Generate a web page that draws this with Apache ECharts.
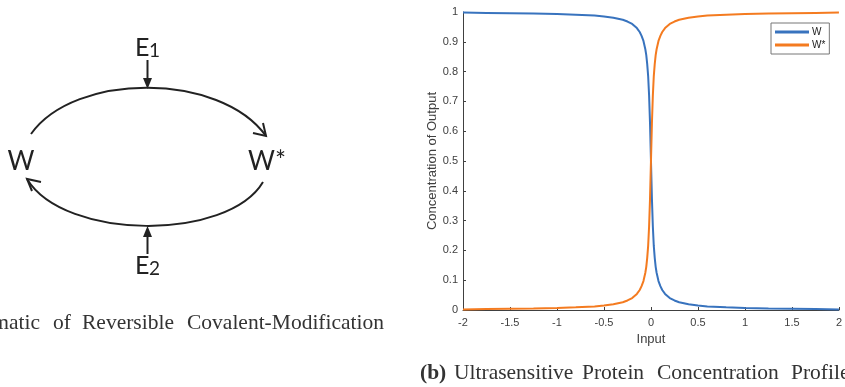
<!DOCTYPE html>
<html>
<head>
<meta charset="utf-8">
<script src="https://cdn.jsdelivr.net/npm/echarts@6/dist/echarts.min.js"></script>
<style>
  html, body { margin: 0; padding: 0; background: #ffffff; }
  #chart { width: 845px; height: 387px; }
</style>
</head>
<body>
<div id="chart"></div>
<script>
// Input level (x) at which the steady-state concentrations are sampled
const inputX = [-2, -1.75, -1.5, -1.25, -1, -0.8, -0.6, -0.5, -0.4, -0.3, -0.25, -0.2, -0.15, -0.12, -0.1,
  -0.08, -0.06, -0.05, -0.04, -0.03, -0.02, -0.01, 0, 0.01, 0.02, 0.03, 0.04, 0.05, 0.06, 0.08,
  0.1, 0.12, 0.15, 0.2, 0.25, 0.3, 0.4, 0.5, 0.6, 0.8, 1, 1.25, 1.5, 1.75, 2];

// Unmodified protein W
const wLevel = [0.998, 0.997, 0.996, 0.995, 0.993, 0.991, 0.988, 0.985, 0.981, 0.974, 0.968, 0.960, 0.946, 0.933, 0.920,
  0.903, 0.875, 0.855, 0.825, 0.785, 0.720, 0.625, 0.500, 0.375, 0.280, 0.215, 0.175, 0.145, 0.125, 0.097,
  0.080, 0.067, 0.054, 0.040, 0.032, 0.026, 0.019, 0.015, 0.012, 0.009, 0.007, 0.005, 0.004, 0.003, 0.002];

// Modified protein W*
const wStarLevel = [0.002, 0.003, 0.004, 0.005, 0.007, 0.009, 0.012, 0.015, 0.019, 0.026, 0.032, 0.040, 0.054, 0.067, 0.080,
  0.097, 0.125, 0.145, 0.175, 0.215, 0.280, 0.375, 0.500, 0.625, 0.720, 0.785, 0.825, 0.855, 0.875, 0.903,
  0.920, 0.933, 0.946, 0.960, 0.968, 0.974, 0.981, 0.985, 0.988, 0.991, 0.993, 0.995, 0.996, 0.997, 0.998];

const seriesNames = ['W', 'W*'];
const xRange = { min: -2, max: 2, step: 0.5 };
const yRange = { min: 0, max: 1, step: 0.1 };

const axisInk = '#404040';
const tickFont = '"Liberation Sans", Arial, sans-serif';
const diagramFont = 'Lato, "Open Sans", sans-serif';
const captionFont = '"Liberation Serif", serif';
const ink = '#222222';

const chart = echarts.init(document.getElementById('chart'), null, { renderer: 'canvas' });

// caption words, laid out with justified spacing
function word(text, x, y, align, bold) {
  return {
    type: 'text', x: x, y: y,
    style: {
      text: text, fill: '#333', align: align, verticalAlign: 'middle',
      font: (bold ? 'bold ' : '') + '21.5px ' + captionFont
    }
  };
}

// Schematic of the covalent-modification cycle
const schematic = [
  { type: 'text', x: 21, y: 162, style: { text: 'W', font: '26px ' + diagramFont, fill: ink, align: 'center', verticalAlign: 'middle' } },
  { type: 'text', x: 248, y: 162, style: { text: 'W*', font: '26px ' + diagramFont, fill: ink, align: 'left', verticalAlign: 'middle' } },
  { type: 'text', x: 135, y: 48, style: { text: 'E', font: '25px ' + diagramFont, fill: ink, align: 'left', verticalAlign: 'middle' } },
  { type: 'text', x: 149, y: 51, style: { text: '1', font: '19px ' + diagramFont, fill: ink, align: 'left', verticalAlign: 'middle' } },
  { type: 'text', x: 135, y: 266, style: { text: 'E', font: '25px ' + diagramFont, fill: ink, align: 'left', verticalAlign: 'middle' } },
  { type: 'text', x: 149, y: 269, style: { text: '2', font: '19px ' + diagramFont, fill: ink, align: 'left', verticalAlign: 'middle' } },
  // upper arc W -> W*
  { type: 'bezierCurve', shape: { x1: 31, y1: 134, cpx1: 75, cpy1: 72, cpx2: 220, cpy2: 72, x2: 266, y2: 136 }, style: { stroke: ink, lineWidth: 2, fill: null } },
  { type: 'polyline', shape: { points: [[253, 133], [266, 136], [263, 123]] }, style: { stroke: ink, lineWidth: 2, fill: null } },
  // lower arc W* -> W
  { type: 'bezierCurve', shape: { x1: 263, y1: 182, cpx1: 228, cpy1: 241, cpx2: 65, cpy2: 241, x2: 27, y2: 179 }, style: { stroke: ink, lineWidth: 2, fill: null } },
  { type: 'polyline', shape: { points: [[41, 182], [27, 179], [32, 191]] }, style: { stroke: ink, lineWidth: 2, fill: null } },
  // enzyme inputs
  { type: 'line', shape: { x1: 147.5, y1: 60, x2: 147.5, y2: 80 }, style: { stroke: ink, lineWidth: 2 } },
  { type: 'polygon', shape: { points: [[143, 78], [152, 78], [147.5, 89]] }, style: { fill: ink } },
  { type: 'line', shape: { x1: 147.5, y1: 254, x2: 147.5, y2: 235 }, style: { stroke: ink, lineWidth: 2 } },
  { type: 'polygon', shape: { points: [[143, 237], [152, 237], [147.5, 226]] }, style: { fill: ink } },
  // caption (a)
  word('(a)  Schematic', 40, 323, 'right'),
  word('of', 53, 323, 'left'),
  word('Reversible', 82, 323, 'left'),
  word('Covalent-Modification', 187, 323, 'left'),
  // caption (b)
  word('(b)', 420, 373, 'left', true),
  word('Ultrasensitive', 454, 373, 'left'),
  word('Protein', 582, 373, 'left'),
  word('Concentration', 657, 373, 'left'),
  word('Profile', 791, 373, 'left')
];

chart.setOption({
  animation: false,
  backgroundColor: '#ffffff',
  color: ['#3873BE', '#F47B20'],
  grid: { left: 463, top: 12, right: 4, bottom: 77, containLabel: false },
  legend: {
    data: seriesNames,
    orient: 'vertical',
    left: 771, top: 23,
    padding: [4, 4, 4, 4],
    itemGap: 3,
    itemWidth: 34, itemHeight: 3,
    icon: 'rect',
    borderColor: '#777', borderWidth: 1, borderRadius: 0,
    backgroundColor: '#fff',
    textStyle: { fontSize: 10, fontFamily: tickFont, color: '#222', padding: [0, 0, 0, -2] }
  },
  xAxis: {
    type: 'value',
    min: xRange.min, max: xRange.max, interval: xRange.step,
    name: 'Input', nameLocation: 'middle', nameGap: 23,
    nameTextStyle: { fontSize: 13, fontFamily: tickFont, color: axisInk },
    axisLine: { show: true, onZero: false, lineStyle: { color: axisInk, width: 1 } },
    axisTick: { show: true, inside: true, length: 3, lineStyle: { color: axisInk } },
    axisLabel: { fontSize: 11, fontFamily: tickFont, color: axisInk, margin: 7, showMinLabel: true, showMaxLabel: true },
    splitLine: { show: false }
  },
  yAxis: {
    type: 'value',
    min: yRange.min, max: yRange.max, interval: yRange.step,
    name: 'Concentration of Output', nameLocation: 'middle', nameGap: 24, nameRotate: 90,
    nameTextStyle: { fontSize: 13, fontFamily: tickFont, color: axisInk },
    axisLine: { show: true, onZero: false, lineStyle: { color: axisInk, width: 1 } },
    axisTick: { show: true, inside: true, length: 3, lineStyle: { color: axisInk } },
    axisLabel: { fontSize: 11, fontFamily: tickFont, color: axisInk, margin: 5, showMinLabel: true, showMaxLabel: true },
    splitLine: { show: false }
  },
  series: [
    {
      name: seriesNames[0], type: 'line', showSymbol: false, symbol: 'none',
      lineStyle: { width: 2 },
      data: inputX.map((x, i) => [x, wLevel[i]])
    },
    {
      name: seriesNames[1], type: 'line', showSymbol: false, symbol: 'none',
      lineStyle: { width: 2 },
      data: inputX.map((x, i) => [x, wStarLevel[i]])
    }
  ],
  graphic: schematic
});
</script>
</body>
</html>
